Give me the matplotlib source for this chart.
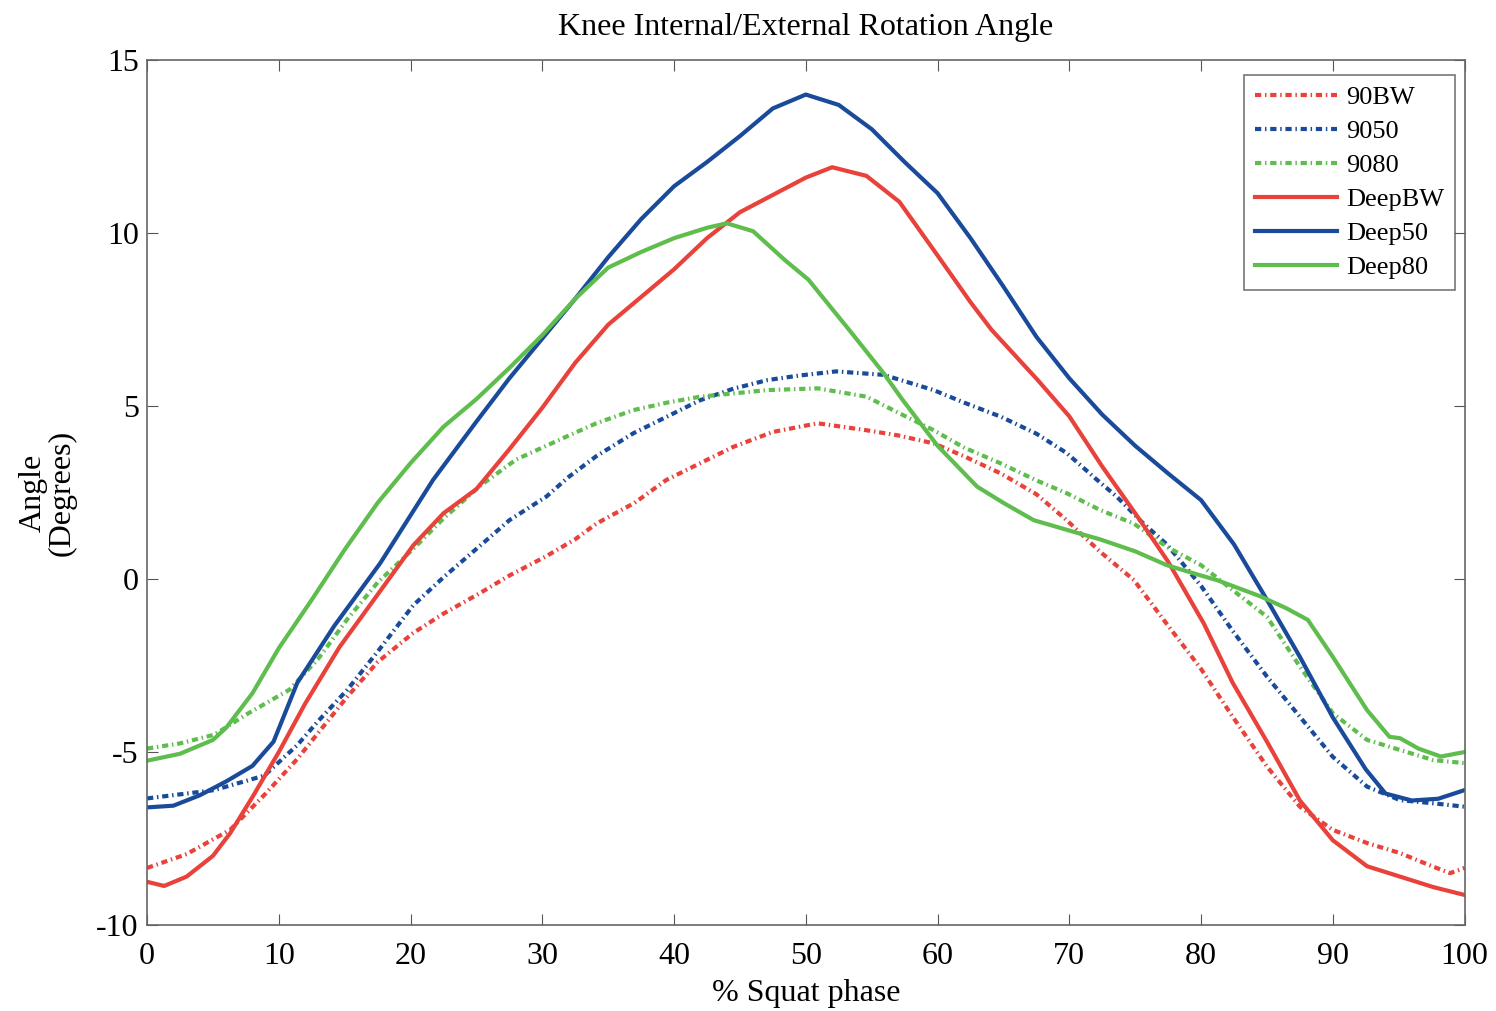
import matplotlib
matplotlib.use("Agg")
import matplotlib.pyplot as plt

# ---- data ----
x_deepbw = [0, 1.3, 3, 5, 6.3, 8, 10, 12, 14.6, 17.5, 20.2, 22.5, 25, 27.5, 30, 32.5, 35, 37.5, 40, 42.5, 45, 47.5, 50, 52, 54.6, 57.1, 60, 62.5, 64.1, 67.6, 70, 72.5, 75, 77.5, 80.2, 82.4, 85, 87.5, 90, 92.6, 95.1, 97.6, 100]
y_deepbw = [-8.75, -8.87, -8.6, -8.0, -7.35, -6.3, -5.0, -3.6, -1.97, -0.45, 0.97, 1.9, 2.6, 3.75, 4.95, 6.25, 7.35, 8.15, 8.95, 9.85, 10.6, 11.1, 11.6, 11.9, 11.65, 10.9, 9.35, 8.0, 7.2, 5.75, 4.7, 3.25, 1.9, 0.5, -1.28, -3.0, -4.7, -6.4, -7.55, -8.3, -8.6, -8.9, -9.13]

x_deep50 = [0, 2, 4, 6, 8, 9.6, 11.4, 14.2, 17.7, 20, 21.7, 25, 27.5, 30, 32.5, 35, 37.5, 40, 42.5, 45, 47.5, 50, 52.5, 55, 57.5, 60, 62.5, 65, 67.5, 70, 72.5, 75, 77.5, 80, 82.5, 85, 87.5, 90, 92.5, 94, 96, 98, 100]
y_deep50 = [-6.6, -6.55, -6.25, -5.85, -5.4, -4.7, -3.0, -1.36, 0.46, 1.84, 2.86, 4.55, 5.8, 6.95, 8.1, 9.3, 10.4, 11.35, 12.05, 12.8, 13.6, 14.0, 13.7, 13.0, 12.05, 11.15, 9.85, 8.45, 7.0, 5.8, 4.75, 3.85, 3.05, 2.28, 1.0, -0.6, -2.25, -4.0, -5.5, -6.2, -6.4, -6.35, -6.1]

x_deep80 = [0, 2.5, 5, 6, 8, 10, 12.5, 15, 17.5, 20, 22.5, 25, 27.5, 30, 32.5, 35, 37.5, 40, 42.5, 44, 46, 48.4, 50.2, 53.5, 55.9, 57.3, 60, 63, 65, 67.3, 70, 72.3, 75, 77.4, 80, 81.2, 84.5, 86.5, 88.1, 90, 92.6, 94.3, 95.1, 96.5, 98.2, 100]
y_deep80 = [-5.25, -5.05, -4.65, -4.3, -3.3, -2.0, -0.6, 0.85, 2.2, 3.35, 4.4, 5.2, 6.1, 7.05, 8.1, 9.0, 9.45, 9.85, 10.15, 10.28, 10.05, 9.22, 8.65, 7.1, 5.95, 5.2, 3.85, 2.67, 2.2, 1.7, 1.4, 1.15, 0.8, 0.4, 0.1, -0.03, -0.5, -0.85, -1.18, -2.25, -3.79, -4.56, -4.6, -4.9, -5.13, -5.0]

x_90bw = [0, 3, 6.3, 9, 11.4, 15.2, 17.5, 20.2, 22.5, 25.3, 27.5, 30.3, 32.5, 34.1, 37, 39.4, 42, 44.5, 47.5, 50.9, 54.6, 57, 59.7, 62, 64.8, 67.5, 69.8, 72.3, 74.9, 77.4, 80, 82.4, 85, 87.5, 90, 92.6, 95.1, 97.6, 98.9, 100]
y_90bw = [-8.35, -7.95, -7.25, -6.2, -5.2, -3.4, -2.4, -1.56, -1.0, -0.4, 0.1, 0.66, 1.15, 1.6, 2.2, 2.86, 3.35, 3.82, 4.25, 4.5, 4.3, 4.15, 3.92, 3.55, 3.05, 2.45, 1.7, 0.8, -0.03, -1.3, -2.6, -3.98, -5.42, -6.58, -7.25, -7.63, -7.92, -8.31, -8.5, -8.35]

x_9050 = [0, 5.1, 8.9, 11.4, 13, 15.2, 17.5, 20.2, 22.5, 25.3, 27.5, 30.3, 32, 34.1, 36.9, 39.5, 42, 44.5, 47.1, 49.5, 52.3, 55.9, 59.7, 62, 64.8, 67.5, 69.8, 72, 73.6, 75.5, 77.4, 80, 82.4, 85, 87.5, 90, 92.6, 95.1, 97.6, 100]
y_9050 = [-6.34, -6.1, -5.68, -4.8, -4.1, -3.2, -2.1, -0.76, 0.05, 0.97, 1.7, 2.38, 2.95, 3.55, 4.21, 4.7, 5.17, 5.5, 5.75, 5.88, 6.0, 5.9, 5.46, 5.1, 4.69, 4.2, 3.64, 2.9, 2.38, 1.65, 1.0, -0.2, -1.5, -2.82, -3.98, -5.14, -6.0, -6.39, -6.48, -6.58]

x_9080 = [0, 2.5, 5.1, 7.6, 10.8, 13, 15.2, 17.5, 20.2, 22.5, 25.3, 28, 31.8, 34.1, 36.9, 39.5, 42, 47.1, 50.9, 54.6, 57.1, 59.7, 62, 64.8, 67.5, 69.8, 72.3, 74.9, 77.4, 80, 82.4, 85, 87.5, 90, 92.6, 95.1, 97.6, 100]
y_9080 = [-4.9, -4.75, -4.5, -3.9, -3.2, -2.3, -1.16, -0.1, 0.87, 1.75, 2.7, 3.45, 4.11, 4.5, 4.88, 5.1, 5.27, 5.46, 5.51, 5.27, 4.79, 4.3, 3.8, 3.34, 2.85, 2.48, 2.0, 1.6, 0.93, 0.4, -0.32, -1.09, -2.53, -3.88, -4.65, -4.94, -5.23, -5.32]

labels = ["90BW", "9050", "9080", "DeepBW", "Deep50", "Deep80"]
x_ticks = [0, 10, 20, 30, 40, 50, 60, 70, 80, 90, 100]
y_ticks = [-10, -5, 0, 5, 10, 15]

RED = "#e8423b"
BLUE = "#1a4b9b"
GREEN = "#5fbd4e"

plt.rcParams['font.family'] = ['Liberation Serif', 'DejaVu Serif']
plt.rcParams['axes.unicode_minus'] = False

fig = plt.figure(figsize=(14.96, 10.11), dpi=100)
ax = fig.add_axes([0.0983, 0.085, 0.8807, 0.8557])

dot = (0, (1.5, 0.9, 0.35, 0.9))
series = [
    (x_90bw, y_90bw, RED, dot),
    (x_9050, y_9050, BLUE, dot),
    (x_9080, y_9080, GREEN, dot),
    (x_deepbw, y_deepbw, RED, '-'),
    (x_deep50, y_deep50, BLUE, '-'),
    (x_deep80, y_deep80, GREEN, '-'),
]
for (xs, ys, c, ls), lab in zip(series, labels):
    ax.plot(xs, ys, color=c, linestyle=ls, linewidth=3.0, label=lab,
            solid_joinstyle='round')

ax.set_xlim(0, 100)
ax.set_ylim(-10, 15)
ax.set_xticks(x_ticks)
ax.set_yticks(y_ticks)
ax.tick_params(direction='in', top=True, right=True, labelsize=23, length=8,
               color='#555555')
ax.tick_params(axis='x', pad=12)
ax.tick_params(axis='y', pad=6)
for s in ax.spines.values():
    s.set_color('#666666')
    s.set_linewidth(1.2)

ax.set_title("Knee Internal/External Rotation Angle", fontsize=23, pad=18)
ax.set_xlabel("% Squat phase", fontsize=23, labelpad=6)
ax.set_ylabel("Angle\n(Degrees)", fontsize=23, labelpad=14, linespacing=1.0)

leg = ax.legend(loc='upper right', fontsize=19, frameon=True, fancybox=False,
                edgecolor='#555555', handlelength=3.1, handletextpad=0.35,
                labelspacing=0.4, borderpad=0.4, borderaxespad=0,
                bbox_to_anchor=(0.9924, 0.9827))
leg.get_frame().set_linewidth(1.2)

fig.savefig("out.png", dpi=100)
